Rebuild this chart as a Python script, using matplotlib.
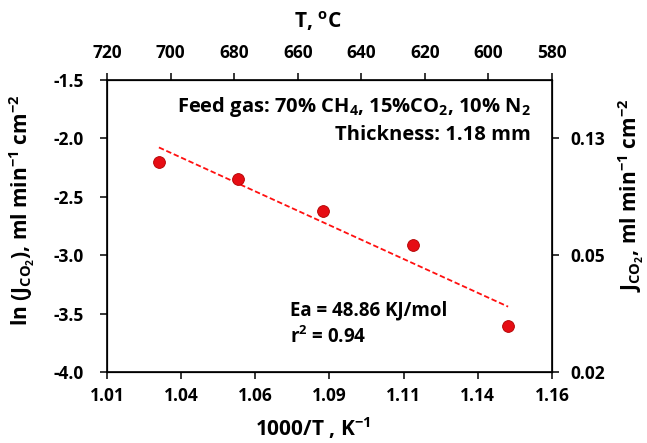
import numpy as np
import matplotlib.pyplot as plt

plt.rcParams['font.family'] = ['Open Sans', 'DejaVu Sans']
plt.rcParams['font.weight'] = 'bold'
plt.rcParams['axes.labelweight'] = 'bold'
plt.rcParams['mathtext.default'] = 'regular'

# data
inv_T = [1.0275, 1.0541, 1.0828, 1.1131, 1.1452]
ln_J = [-2.20, -2.35, -2.62, -2.91, -3.61]

x_ticks = [1.01, 1.035, 1.06, 1.085, 1.11, 1.135, 1.16]
x_labels = ['1.01', '1.04', '1.06', '1.09', '1.11', '1.14', '1.16']
y_ticks = [-4.0, -3.5, -3.0, -2.5, -2.0, -1.5]
top_ticks = [720, 700, 680, 660, 640, 620, 600, 580]
right_pos = [-4.0, -3.0, -2.0]
right_labels = ['0.02', '0.05', '0.13']

W, H = 647, 443
fig = plt.figure(figsize=(W / 100, H / 100), dpi=100)
ax = fig.add_axes([107 / W, 1 - 372 / H, 445 / W, 292 / H])

# linear trend line over the data range
p = np.polyfit(inv_T, ln_J, 1)
xs = np.array([inv_T[0], inv_T[-1]])
ax.plot(xs, np.polyval(p, xs), ls=(0, (3, 1.5)), color='#ff1010', lw=1.3)
ax.plot(inv_T, ln_J, 'o', ms=8.5, mfc='#e60d14', mec='#b00000', mew=0.6)

tick_kw = dict(direction='out', length=5, width=1.1, labelsize=12.5)

ax.set_xlim(1.01, 1.16)
ax.set_ylim(-4.0, -1.5)
ax.set_xticks(x_ticks)
ax.set_xticklabels(x_labels, fontweight='bold')
ax.set_yticks(y_ticks)
ax.set_yticklabels(['%.1f' % v for v in y_ticks], fontweight='bold')
ax.tick_params(axis='x', pad=6, **tick_kw)
ax.tick_params(axis='y', pad=12, **tick_kw)
for s in ax.spines.values():
    s.set_linewidth(1.2)

top = ax.twiny()
top.set_xlim(720, 580)
top.set_xticks(top_ticks)
top.set_xticklabels([str(t) for t in top_ticks], fontweight='bold')
top.tick_params(pad=8, **tick_kw)

right = ax.twinx()
right.set_ylim(-4.0, -1.5)
right.set_yticks(right_pos)
right.set_yticklabels(right_labels, fontweight='bold')
right.tick_params(pad=8, **tick_kw)

# axis titles
fig.text(318 / W, 1 - 21 / H, 'T, $^{o}$C', ha='center', va='center', fontsize=15)
fig.text(313 / W, 1 - 428 / H, '1000/T , K$^{-1}$', ha='center', va='center', fontsize=15)
fig.text(22 / W, 1 - 210 / H, 'ln (J$_{CO_2}$), ml min$^{-1}$ cm$^{-2}$',
         ha='center', va='center', rotation=90, fontsize=15)
fig.text(631 / W, 1 - 195 / H, 'J$_{CO_2}$, ml min$^{-1}$ cm$^{-2}$',
         ha='center', va='center', rotation=90, fontsize=15)

txt_kw = dict(transform=ax.transAxes, va='baseline', fontweight='bold')
ax.text(0.952, 0.890, 'Feed gas: 70% CH$_4$, 15%CO$_2$, 10% N$_2$', ha='right',
        fontsize=14.5, **txt_kw)
ax.text(0.952, 0.795, 'Thickness: 1.18 mm', ha='right', fontsize=14.5, **txt_kw)
ax.text(0.412, 0.195, 'Ea = 48.86 KJ/mol', ha='left', fontsize=13.5, **txt_kw)
ax.text(0.412, 0.099, 'r$^2$ = 0.94', ha='left', fontsize=13.5, **txt_kw)

fig.savefig('out.png', dpi=100)
